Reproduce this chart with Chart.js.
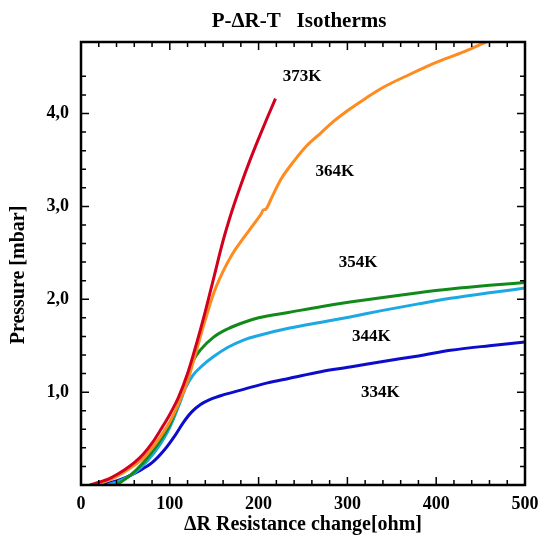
<!DOCTYPE html>
<html>
<head>
<meta charset="utf-8">
<title>P-ΔR-T Isotherms</title>
<script src="https://cdn.jsdelivr.net/npm/chart.js@4/dist/chart.umd.min.js"></script>
<style>
  body { margin: 0; background: #fff; }
  #chart { display: block; }
</style>
</head>
<body>
<canvas id="chart" width="542" height="539"></canvas>
<script>
// Isotherm data: resistance change [ohm] vs pressure [mbar]
const red373X = [10, 20, 30, 40, 50, 60, 70, 80, 90, 100, 110, 120, 130, 140, 150, 160, 170, 180, 190, 200, 210, 219];
const red373Y = [0, 0.03, 0.06, 0.11, 0.17, 0.24, 0.33, 0.45, 0.6, 0.76, 0.95, 1.2, 1.52, 1.87, 2.25, 2.63, 2.95, 3.23, 3.49, 3.73, 3.96, 4.16];

const orange364X = [12, 25, 40, 55, 70, 85, 100, 110, 120, 130, 140, 150, 160, 170, 180, 190, 200, 203, 205, 208, 215, 225, 240, 255, 270, 285, 300, 320, 340, 370, 400, 430, 456, 475];
const orange364Y = [0, 0.03, 0.09, 0.18, 0.29, 0.46, 0.68, 0.88, 1.12, 1.45, 1.78, 2.08, 2.3, 2.48, 2.62, 2.75, 2.88, 2.92, 2.96, 2.97, 3.1, 3.29, 3.49, 3.66, 3.79, 3.92, 4.03, 4.16, 4.28, 4.42, 4.55, 4.66, 4.77, 4.84];

const green354X = [40, 55, 70, 85, 100, 110, 118, 126, 135, 149, 165, 183, 200, 235, 270, 303, 340, 380, 416, 460, 500];
const green354Y = [0, 0.1, 0.24, 0.42, 0.65, 0.88, 1.1, 1.33, 1.46, 1.59, 1.68, 1.75, 1.8, 1.86, 1.92, 1.97, 2.02, 2.07, 2.11, 2.15, 2.18];

const cyan344X = [30, 45, 60, 75, 90, 100, 110, 118, 126, 136, 149, 165, 183, 200, 235, 275, 303, 340, 380, 416, 460, 500];
const cyan344Y = [0, 0.05, 0.13, 0.26, 0.45, 0.62, 0.85, 1.05, 1.18, 1.28, 1.38, 1.48, 1.56, 1.61, 1.69, 1.76, 1.81, 1.88, 1.95, 2.01, 2.07, 2.12];

const blue334X = [20, 35, 50, 65, 80, 95, 105, 115, 125, 135, 145, 160, 183, 210, 235, 270, 303, 340, 380, 416, 460, 500];
const blue334Y = [0, 0.03, 0.08, 0.15, 0.24, 0.39, 0.52, 0.67, 0.79, 0.87, 0.92, 0.97, 1.03, 1.1, 1.15, 1.22, 1.27, 1.33, 1.39, 1.45, 1.5, 1.54];

// Curve labels and where they sit (data units)
const curveLabels = ["373K", "364K", "354K", "344K", "334K"];
const labelX = [249, 286, 312, 327, 337];
const labelY = [4.4, 3.37, 2.39, 1.6, 0.99];

const serif = "'Liberation Serif', 'Times New Roman', serif";

function points(xs, ys) {
  return xs.map((x, i) => ({ x: x, y: ys[i] }));
}

function series(data, color) {
  return {
    data: data,
    borderColor: color,
    borderWidth: 3,
    pointRadius: 0,
    showLine: true,
    tension: 0.4,
    cubicInterpolationMode: "monotone",
  };
}

// dataset 0 is drawn on top, so red goes first
const datasets = [
  series(points(red373X, red373Y), "#d1001f"),
  series(points(orange364X, orange364Y), "#ff8a1e"),
  series(points(green354X, green354Y), "#128a1a"),
  series(points(cyan344X, cyan344Y), "#1ca9e3"),
  series(points(blue334X, blue334Y), "#0c0ccc"),
];

// Frame, inward ticks on all four sides, titles and curve labels
const decorations = {
  id: "decorations",
  afterDraw(chart) {
    const { ctx, chartArea, scales } = chart;
    const { left, right, top, bottom } = chartArea;
    ctx.save();
    ctx.strokeStyle = "#000";
    ctx.lineWidth = 1.5;
    for (const t of scales.x.ticks) {
      const px = scales.x.getPixelForValue(t.value);
      const len = t.value % 100 === 0 ? 8 : 5;
      ctx.beginPath();
      ctx.moveTo(px, bottom);
      ctx.lineTo(px, bottom - len);
      ctx.moveTo(px, top);
      ctx.lineTo(px, top + len);
      ctx.stroke();
    }
    for (const t of scales.y.ticks) {
      const py = scales.y.getPixelForValue(t.value);
      const len = Math.abs(t.value - Math.round(t.value)) < 1e-6 ? 8 : 5;
      ctx.beginPath();
      ctx.moveTo(left, py);
      ctx.lineTo(left + len, py);
      ctx.moveTo(right, py);
      ctx.lineTo(right - len, py);
      ctx.stroke();
    }
    ctx.lineWidth = 2.5;
    ctx.strokeRect(left, top, right - left, bottom - top);

    ctx.fillStyle = "#000";
    ctx.textAlign = "center";
    ctx.textBaseline = "middle";
    ctx.font = "bold 21px " + serif;
    ctx.fillText("P-\u0394R-T   Isotherms", (left + right) / 2 - 4, 22);

    // y axis title sits a little below the middle of the plot
    ctx.save();
    ctx.translate(19, 275);
    ctx.rotate(-Math.PI / 2);
    ctx.font = "bold 20px " + serif;
    ctx.fillText("Pressure [mbar]", 0, 0);
    ctx.restore();

    ctx.font = "bold 17px " + serif;
    curveLabels.forEach((txt, i) => {
      ctx.fillText(txt, scales.x.getPixelForValue(labelX[i]), scales.y.getPixelForValue(labelY[i]));
    });
    ctx.restore();
  },
};

const tickFont = { family: serif, size: 18, weight: "bold" };
const titleFont = { family: serif, size: 20, weight: "bold" };

new Chart(document.getElementById("chart"), {
  type: "scatter",
  data: { datasets },
  options: {
    responsive: false,
    animation: false,
    layout: { padding: { top: 42, right: 17, left: 0, bottom: 0 } },
    plugins: {
      legend: { display: false },
      tooltip: { enabled: false },
    },
    scales: {
      x: {
        type: "linear",
        min: 0,
        max: 500,
        grid: { display: false, drawTicks: false },
        border: { display: false },
        ticks: {
          stepSize: 20,
          autoSkip: false,
          maxRotation: 0,
          padding: 9,
          color: "#000",
          font: tickFont,
          callback: (v) => (v % 100 === 0 ? String(v) : ""),
        },
        title: {
          display: true,
          text: "\u0394R Resistance change[ohm]",
          color: "#000",
          font: titleFont,
          padding: { top: 0, bottom: 2 },
        },
        afterFit: (scale) => {
          scale.height = 54;
          scale.paddingLeft = 0;
          scale.paddingRight = 0;
        },
      },
      y: {
        type: "linear",
        min: 0,
        max: 4.77,
        grid: { display: false, drawTicks: false },
        border: { display: false },
        ticks: {
          stepSize: 0.2,
          autoSkip: false,
          padding: 12,
          color: "#000",
          font: tickFont,
          callback: (v) => {
            const r = Math.round(v);
            if (Math.abs(v - r) > 1e-6 || r < 1) return "";
            return r.toFixed(1).replace(".", ",");
          },
        },
        title: { display: false },
        afterFit: (scale) => {
          scale.width = 81;
          scale.paddingTop = 0;
          scale.paddingBottom = 0;
        },
      },
    },
  },
  plugins: [decorations],
});
</script>
</body>
</html>
